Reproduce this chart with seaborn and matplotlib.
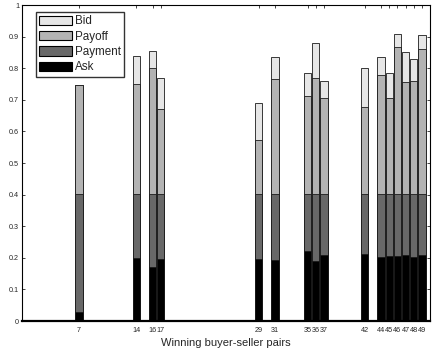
import numpy as np
import pandas as pd
import matplotlib
matplotlib.use("Agg")
import matplotlib.pyplot as plt
from matplotlib.patches import Patch
import seaborn as sns

# Winning buyer-seller pairs and the level reached by each stacked component
pairs = [7, 14, 16, 17, 29, 31, 35, 36, 37, 42, 44, 45, 46, 47, 48, 49]
ask = [0.030, 0.200, 0.172, 0.195, 0.195, 0.193, 0.222, 0.191, 0.208, 0.212,
       0.203, 0.206, 0.205, 0.210, 0.203, 0.209]
payment_top = [0.403] * 16
payoff_top = [0.747, 0.750, 0.802, 0.671, 0.573, 0.766, 0.712, 0.768, 0.706, 0.676,
              0.778, 0.706, 0.866, 0.757, 0.760, 0.862]
bid_top = [0.747, 0.838, 0.855, 0.768, 0.690, 0.834, 0.786, 0.879, 0.760, 0.802,
           0.834, 0.784, 0.907, 0.852, 0.830, 0.904]

series = ["Bid", "Payoff", "Payment", "Ask"]
colors = {"Bid": "#e6e6e6", "Payoff": "#b3b3b3", "Payment": "#686868", "Ask": "#000000"}

sns.set_style("white")
plt.rcParams["font.family"] = ["Liberation Sans", "DejaVu Sans"]

df = pd.DataFrame({"pair": pairs, "Ask": ask, "Payment": payment_top,
                   "Payoff": payoff_top, "Bid": bid_top})

fig = plt.figure(figsize=(4.32, 3.52), dpi=100)
ax = fig.add_axes([22 / 432, 31 / 352, 408 / 432, 316 / 352])

# Stacked look: draw the cumulative levels from the tallest down, each over the last
for name in series:
    sns.barplot(data=df, x="pair", y=name, native_scale=True, width=0.9,
                color=colors[name], saturation=1, edgecolor="#1a1a1a",
                linewidth=0.6, ax=ax)

ax.set_xlim(0, 50)
ax.set_ylim(0, 1)
ax.set_xticks(pairs)
ax.set_xticklabels([str(p) for p in pairs])
ax.set_yticks(np.round(np.arange(0, 1.01, 0.1), 1))
ax.set_yticklabels(["0"] + [f"{v:.1f}" for v in np.arange(0.1, 0.95, 0.1)] + ["1"])
ax.tick_params(axis="both", direction="in", length=2.5, width=0.6,
               labelsize=5.2, pad=2, top=True, right=True, bottom=True, left=True)
ax.tick_params(axis="x", pad=4)
ax.set_xlabel("Winning buyer-seller pairs", fontsize=8, labelpad=3)
ax.set_ylabel("")
for side in ["left", "top", "right"]:
    ax.spines[side].set_linewidth(0.8)
    ax.spines[side].set_color("black")
ax.spines["bottom"].set_linewidth(1.6)
ax.spines["bottom"].set_color("black")

handles = [Patch(facecolor=colors[n], edgecolor="black", linewidth=0.8, label=n)
           for n in series]
leg = ax.legend(handles=handles, loc="upper left", bbox_to_anchor=(0.034, 0.978),
                fontsize=8.4, frameon=True, fancybox=False, handlelength=2.8,
                handleheight=0.85, handletextpad=0.25, labelspacing=0.28,
                borderpad=0.3, borderaxespad=0)
leg.get_frame().set_edgecolor("black")
leg.get_frame().set_linewidth(1.0)

fig.savefig("out.png", dpi=100)
